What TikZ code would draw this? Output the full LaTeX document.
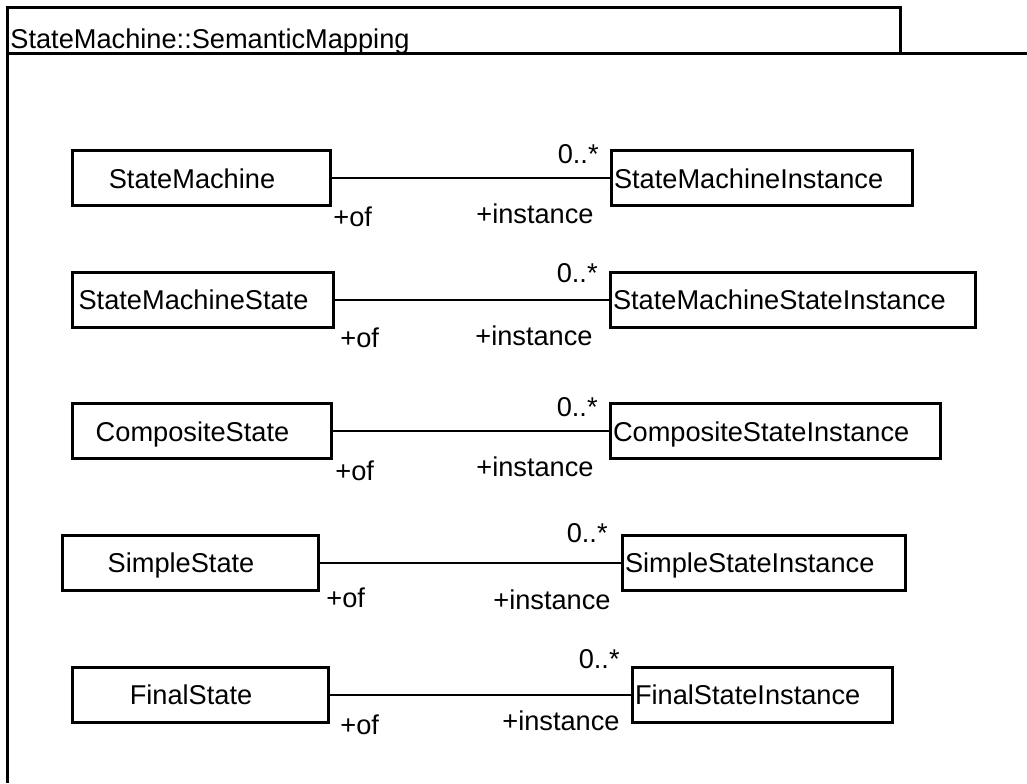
\documentclass[tikz,border=0pt]{standalone}
\usepackage{fontspec}
\setmainfont{Liberation Sans}
\usetikzlibrary{positioning}

\begin{document}
\begin{tikzpicture}[
  x=0.5pt, y=-0.5pt,
  font=\fontsize{13.6pt}{16pt}\selectfont,
  cls/.style={draw, line width=1.5pt, minimum height=27.5pt, inner xsep=1.5pt, inner ysep=0pt, text height=1em, text depth=0pt},
  meta/.style={cls, minimum width=#1, execute at begin node={\hspace*{-9pt}}},
  inst/.style={cls, text width=#1, align=left},
  assoc/.style={line width=1pt},
  role/.style={inner sep=0pt, anchor=base west},
  mult/.style={inner sep=0pt, anchor=base east},
  frame/.style={line width=1.5pt},
]
\useasboundingbox (0,0) rectangle (1027,783);
% package frame with name tab
\draw[frame] (7,783) -- (7,7) -- (900,7) -- (900,53);
\draw[frame] (7,53) -- (1027,53);
\node[anchor=base west, inner sep=0pt] (pkg) at (10,48) {StateMachine::SemanticMapping};
% StateMachine
\node[meta=129pt] (sm) at (201,178) {StateMachine};
\node[inst=147.5pt] (smi) at (761.5,178) {StateMachineInstance};
\draw[assoc] (sm) -- (smi);
\node[mult] (sm-m) at (599,163) {0..*};
\node[role] (sm-of) at (333,226) {+of};
\node[role] (sm-in) at (476,223) {+instance};
% StateMachineState
\node[meta=130.5pt] (sms) at (202.5,299.5) {StateMachineState};
\node[inst=179.5pt] (smsi) at (792.5,299.5) {StateMachineStateInstance};
\draw[assoc] (sms) -- (smsi);
\node[mult] (sms-m) at (598,282) {0..*};
\node[role] (sms-of) at (340,347) {+of};
\node[role] (sms-in) at (475,345) {+instance};
% CompositeState
\node[meta=129.5pt] (cs) at (201.5,431) {CompositeState};
\node[inst=162pt] (csi) at (775,431) {CompositeStateInstance};
\draw[assoc] (cs) -- (csi);
\node[mult] (cs-m) at (598,416) {0..*};
\node[role] (cs-of) at (335,480) {+of};
\node[role] (cs-in) at (476,476) {+instance};
% SimpleState
\node[meta=128pt] (ss) at (190,562.5) {SimpleState};
\node[inst=138.5pt] (ssi) at (763.5,562.5) {SimpleStateInstance};
\draw[assoc] (ss) -- (ssi);
\node[mult] (ss-m) at (608,542) {0..*};
\node[role] (ss-of) at (326,607) {+of};
\node[role] (ss-in) at (493,609) {+instance};
% FinalState
\node[meta=128pt] (fs) at (200,694.5) {FinalState};
\node[inst=127pt] (fsi) at (762,694.5) {FinalStateInstance};
\draw[assoc] (fs) -- (fsi);
\node[mult] (fs-m) at (620,668) {0..*};
\node[role] (fs-of) at (340,734) {+of};
\node[role] (fs-in) at (502,730) {+instance};
\end{tikzpicture}
\end{document}
